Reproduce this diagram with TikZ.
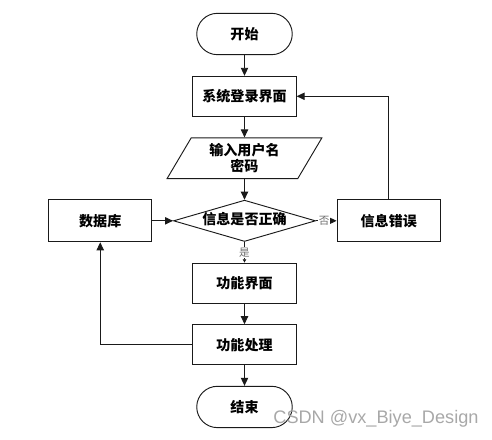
\documentclass[tikz,border=0pt]{standalone}
\usepackage{fontspec}
\usepackage{xcolor}
\usepackage{tikz}
\usetikzlibrary{shapes.geometric, shapes.misc, arrows.meta, positioning}
\newfontfamily\cjk{Noto Sans CJK SC}
\setsansfont{Liberation Sans}
\definecolor{lineDark}{HTML}{1A1A1A}
\definecolor{labelGray}{HTML}{6E6E6E}
\definecolor{markGray}{HTML}{A8A8A8}

\begin{document}
\begin{tikzpicture}[
    node distance=0.62cm,
    base/.style={draw=lineDark, line width=0.8pt, font=\cjk\bfseries\fontsize{12}{14}\selectfont, align=center},
    terminal/.style={base, rounded rectangle, minimum width=3.1cm, minimum height=1.24cm},
    procbox/.style={base, rectangle, minimum width=3.1cm, minimum height=1.2cm},
    iobox/.style={base, trapezium, trapezium left angle=63, trapezium right angle=117, trapezium stretches=true, minimum width=4.65cm, minimum height=1.22cm, inner sep=1pt},
    decision/.style={base, diamond, aspect=3.38, minimum width=4.26cm, minimum height=1.24cm, inner sep=0pt, text height=0.3cm, text depth=0.08cm},
    arrow/.style={-{Triangle[length=2.4mm, width=2.2mm]}, line width=0.8pt, draw=lineDark},
    branch/.style={font=\cjk\fontsize{9}{10}\selectfont, text=labelGray, fill=white, inner sep=0.5pt},
]
    \useasboundingbox (-7.335,1.02) rectangle (7.425,-12.15);

    \node[terminal] (start) {开始};
    \node[procbox, below=of start] (login) {系统登录界面};
    \node[iobox, below=of login] (input) {输入用户名\\密码};
    \node[decision, below=of input] (check) {信息是否正确};
    \node[procbox, left=of check, minimum height=1.26cm] (db) {数据库};
    \node[procbox, right=of check, minimum height=1.26cm] (err) {信息错误};
    \node[procbox, below=of check] (func) {功能界面};
    \node[procbox, below=of func] (proc) {功能处理};
    \node[terminal, below=of proc] (stop) {结束};

    \draw[arrow] (start) -- (login);
    \draw[arrow] (login) -- (input);
    \draw[arrow] (input) -- (check);
    \draw[arrow] (db) -- (check);
    \draw[arrow] (check) -- (err) node[branch, pos=0.4] {否};
    \draw[-{Triangle[length=1mm, width=1mm]}, line width=0.8pt, draw=lineDark] (check) -- (func) node[branch, midway] {是};
    \draw[arrow] (err.north) |- (login.east);
    \draw[arrow] (func) -- (proc);
    \draw[arrow] (proc.west) -| (db.south);
    \draw[arrow] (proc) -- (stop);

    \node[anchor=west, font=\sffamily\fontsize{15.5}{17}\selectfont, text=markGray, inner sep=0pt] (mark) at (0.86,-11.55) {CSDN @vx\_Biye\_Design};
\end{tikzpicture}
\end{document}
